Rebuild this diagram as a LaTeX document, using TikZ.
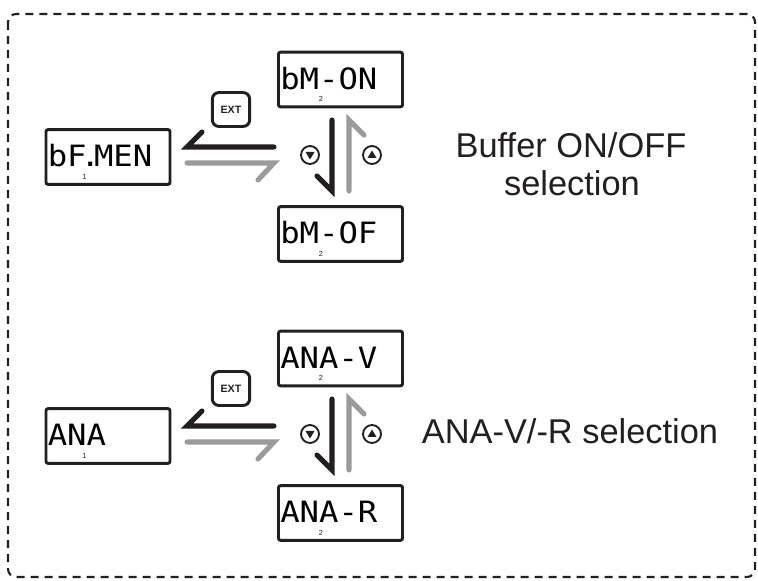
\documentclass[tikz,border=0pt]{standalone}
\usepackage{fontspec}
\setmainfont{Liberation Sans}
\newfontfamily\lcdfont[FakeStretch=1.1]{DejaVu Sans Mono}
\usetikzlibrary{calc}
\definecolor{ink}{HTML}{231F20}
\definecolor{arrgray}{HTML}{9B9B9B}
\begin{document}
\begin{tikzpicture}[x=0.75pt,y=-0.75pt,
  lcdbox/.style={draw=ink, line width=2.2pt, rounded corners=1.5pt, minimum width=93pt, minimum height=41pt, inner sep=0pt},
  lcdtext/.style={anchor=west, inner sep=0pt, text=black, font=\lcdfont\fontsize{22}{22}\selectfont},
  subnum/.style={inner sep=0pt, text=ink, font=\fontsize{5.5}{5.5}\selectfont},
  extbtn/.style={draw=ink, line width=2.2pt, rounded corners=5pt, minimum width=28pt, minimum height=25.5pt, inner sep=0pt, text=ink, font=\bfseries\fontsize{8}{8}\selectfont},
  keycirc/.style={draw=ink, circle, line width=1.4pt, minimum size=13.5pt, inner sep=0pt},
  harpblack/.style={draw=ink, line width=3.8pt, line cap=round, line join=miter},
  harpgray/.style={draw=arrgray, line width=3.8pt, line cap=round, line join=miter},
  caption/.style={anchor=base, inner sep=0pt, text=ink, font=\fontsize{25.8}{30}\selectfont}
]
\useasboundingbox (0,0) rectangle (758,581);
\draw[ink, line width=1.6pt, dash pattern=on 6pt off 4.5pt, rounded corners=6pt] (8,14) rectangle (755,577);

% ---------- top group ----------
\node[lcdbox] (m1) at (108,157) {};
\node[lcdbox] (m2) at (340.5,79.5) {};
\node[lcdbox] (m3) at (340.5,234) {};
\node[lcdtext] (t1) at ($(m1.west)+(3,-1)$) {bF\makebox[0.25em]{.}MEN};
\node[lcdtext] (t2) at ($(m2.west)+(3,-1)$) {bM-ON};
\node[lcdtext] (t3) at ($(m3.west)+(3,-1)$) {bM-OF};
\node[subnum] (n1) at ($(m1.south west)+(40,-9)$) {1};
\node[subnum] (n2) at ($(m2.south west)+(44,-9)$) {2};
\node[subnum] (n3) at ($(m3.south west)+(44,-9)$) {2};
\node[extbtn] (e1) at (231,109.5) {EXT};
\node[keycirc] (kd1) at (310,155) {};
\node[keycirc] (ku1) at (372,155) {};
\fill[ink] ($(kd1.center)+(-4.5,-3)$) -- ($(kd1.center)+(4.5,-3)$) -- ($(kd1.center)+(0,4.5)$) -- cycle;
\fill[ink] ($(ku1.center)+(-4.5,3)$) -- ($(ku1.center)+(4.5,3)$) -- ($(ku1.center)+(0,-4.5)$) -- cycle;
\coordinate (a1s) at (274,147);
\coordinate (a1e) at (187,147);
\coordinate (a1b) at (202,132);
\coordinate (g1s) at (187,163);
\coordinate (g1e) at (274,163);
\coordinate (g1b) at (258,180);
\coordinate (d1s) at (332,120);
\coordinate (d1e) at (332,191);
\coordinate (d1b) at (317,176);
\coordinate (u1s) at (349,191);
\coordinate (u1e) at (349,120);
\coordinate (u1b) at (364,135);
\draw[harpblack] (a1s) -- (a1e) -- (a1b);
\draw[harpgray] (g1s) -- (g1e) -- (g1b);
\draw[harpblack] (d1s) -- (d1e) -- (d1b);
\draw[harpgray] (u1s) -- (u1e) -- (u1b);
\node[caption] (c1a) at (571,158) {Buffer ON/OFF};
\node[caption] (c1b) at (572,196) {selection};

% ---------- bottom group ----------
\node[lcdbox] (m4) at (108,436) {};
\node[lcdbox] (m5) at (340.5,358.5) {};
\node[lcdbox] (m6) at (340.5,513) {};
\node[lcdtext] (t4) at ($(m4.west)+(3,-1)$) {ANA};
\node[lcdtext] (t5) at ($(m5.west)+(3,-1)$) {ANA-V};
\node[lcdtext] (t6) at ($(m6.west)+(3,-1)$) {ANA-R};
\node[subnum] (n4) at ($(m4.south west)+(40,-9)$) {1};
\node[subnum] (n5) at ($(m5.south west)+(44,-9)$) {2};
\node[subnum] (n6) at ($(m6.south west)+(44,-9)$) {2};
\node[extbtn] (e2) at (231,388.5) {EXT};
\node[keycirc] (kd2) at (310,434) {};
\node[keycirc] (ku2) at (372,434) {};
\fill[ink] ($(kd2.center)+(-4.5,-3)$) -- ($(kd2.center)+(4.5,-3)$) -- ($(kd2.center)+(0,4.5)$) -- cycle;
\fill[ink] ($(ku2.center)+(-4.5,3)$) -- ($(ku2.center)+(4.5,3)$) -- ($(ku2.center)+(0,-4.5)$) -- cycle;
\coordinate (a2s) at (274,426);
\coordinate (a2e) at (187,426);
\coordinate (a2b) at (202,411);
\coordinate (g2s) at (187,442);
\coordinate (g2e) at (274,442);
\coordinate (g2b) at (258,459);
\coordinate (d2s) at (332,399);
\coordinate (d2e) at (332,470);
\coordinate (d2b) at (317,455);
\coordinate (u2s) at (349,470);
\coordinate (u2e) at (349,399);
\coordinate (u2b) at (364,414);
\draw[harpblack] (a2s) -- (a2e) -- (a2b);
\draw[harpgray] (g2s) -- (g2e) -- (g2b);
\draw[harpblack] (d2s) -- (d2e) -- (d2b);
\draw[harpgray] (u2s) -- (u2e) -- (u2b);
\node[caption] (c2) at (570,444) {ANA-V/-R selection};
\end{tikzpicture}
\end{document}
